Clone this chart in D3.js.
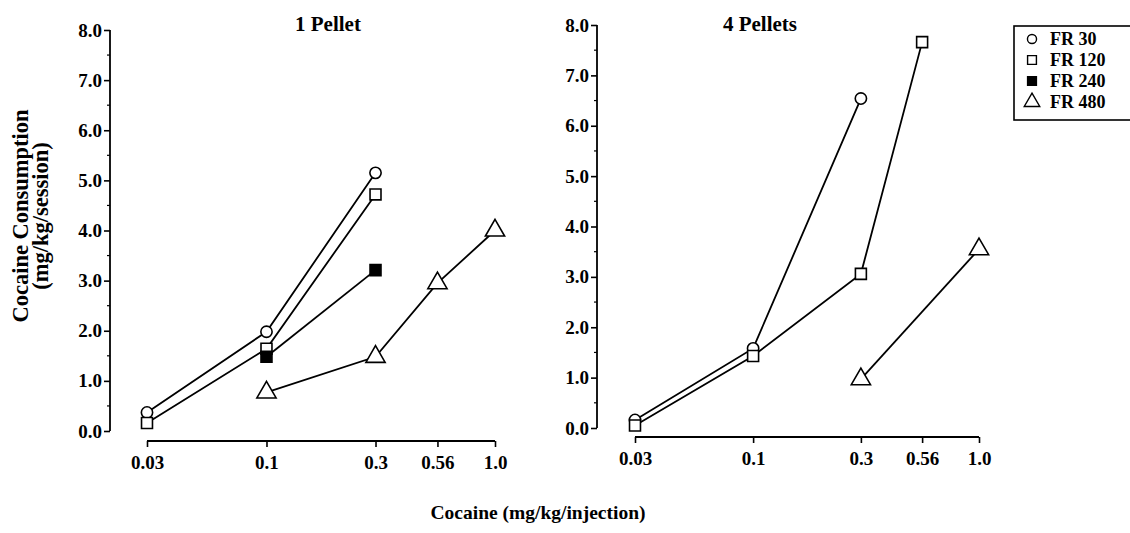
<!DOCTYPE html>
<html>
<head>
<meta charset="utf-8">
<script src="https://cdn.jsdelivr.net/npm/d3@7"></script>
<style>
  body { margin: 0; background: #fff; }
  text { font-family: "Liberation Serif", "Times New Roman", serif; font-weight: bold; fill: #000; }
</style>
</head>
<body>
<div id="chart"></div>
<script>
//Doses on the x axis and tick labels
var doses = [0.03, 0.1, 0.3, 0.56, 1.0];
var doseLabels = ["0.03", "0.1", "0.3", "0.56", "1.0"];
var yTicks = [0, 1, 2, 3, 4, 5, 6, 7, 8];
var seriesNames = ["FR 30", "FR 120", "FR 240", "FR 480"];
var panelTitles = ["1 Pellet", "4 Pellets"];

// values line up with doses, null = not tested
var onePelletFR30 = [0.37, 1.98, 5.15, null, null];
var onePelletFR120 = [0.16, 1.64, 4.72, null, null];
var onePelletFR240 = [null, 1.48, 3.21, null, null];
var onePelletFR480 = [null, 0.77, 1.48, 2.95, 4.0];

var fourPelletFR30 = [0.16, 1.58, 6.54, null, null];
var fourPelletFR120 = [0.05, 1.43, 3.06, 7.66, null];
var fourPelletFR240 = [null, null, null, null, null];
var fourPelletFR480 = [null, null, 0.97, null, 3.55];

var width = 1130;
var height = 533;

var svg = d3
  .select("#chart")
  .append("svg")
  .attr("width", width)
  .attr("height", height);

//panel geometry
var panels = [
  { title: panelTitles[0], titleX: 328, xRange: [147, 495], yRange: [431, 30], yAxisX: 110, xAxisY: 441,
    series: [onePelletFR30, onePelletFR120, onePelletFR240, onePelletFR480] },
  { title: panelTitles[1], titleX: 760, xRange: [635, 979], yRange: [428, 25], yAxisX: 597, xAxisY: 437,
    series: [fourPelletFR30, fourPelletFR120, fourPelletFR240, fourPelletFR480] }
];

var symbolTypes = [d3.symbolCircle, d3.symbolSquare, d3.symbolSquare, d3.symbolTriangle];
var symbolSizes = [100, 120, 120, 160];
var symbolFills = ["#fff", "#fff", "#000", "#fff"];

panels.forEach(function(p) {
  var xScale = d3.scaleLog().domain([0.03, 1.0]).range(p.xRange);
  var yScale = d3.scaleLinear().domain([0, 8]).range(p.yRange);

  // y axis, major ticks
  var yAxis = d3.axisLeft(yScale)
    .tickValues(yTicks)
    .tickSize(6)
    .tickPadding(2)
    .tickFormat(d3.format(".1f"));

  var gy = svg.append("g")
    .attr("transform", "translate(" + p.yAxisX + ",0)")
    .call(yAxis);
  gy.select(".domain").attr("d", "M0," + yScale(0) + "V" + yScale(8));

  // minor ticks at the half units
  gy.selectAll(".minor")
    .data(d3.range(0.5, 8, 1))
    .enter()
    .append("line")
    .attr("class", "minor")
    .attr("x1", -3)
    .attr("x2", 0)
    .attr("y1", function(d) { return yScale(d); })
    .attr("y2", function(d) { return yScale(d); })
    .attr("stroke", "#000")
    .attr("stroke-width", 1.2);

  // x axis, set apart from the y axis
  var xAxis = d3.axisBottom(xScale)
    .tickValues(doses)
    .tickSize(6)
    .tickPadding(9)
    .tickFormat(function(d, i) { return doseLabels[i]; });

  var gx = svg.append("g")
    .attr("transform", "translate(0," + p.xAxisY + ")")
    .call(xAxis);
  gx.select(".domain").attr("d", "M" + p.xRange[0] + ",0H" + p.xRange[1]);

  [gx, gy].forEach(function(g) {
    g.select(".domain").attr("stroke-width", 1.8);
    g.selectAll(".tick line").attr("stroke-width", 1.6);
    g.selectAll(".tick text").attr("font-size", 19).style("font-family", "Liberation Serif").style("font-weight", "bold");
  });

  svg.append("text")
    .attr("x", p.titleX)
    .attr("y", 31)
    .attr("text-anchor", "middle")
    .attr("font-size", 21)
    .text(p.title);

  // lines first (skipping untested doses), markers on top
  var line = d3.line()
    .x(function(d) { return xScale(d.dose); })
    .y(function(d) { return yScale(d.v); });

  p.series.forEach(function(values, s) {
    var pts = values
      .map(function(v, i) { return { dose: doses[i], v: v }; })
      .filter(function(d) { return d.v !== null; });
    if (pts.length < 2) return;
    svg.append("path")
      .datum(pts)
      .attr("d", line)
      .attr("fill", "none")
      .attr("stroke", "#000")
      .attr("stroke-width", 1.8);
  });

  p.series.forEach(function(values, s) {
    var pts = values
      .map(function(v, i) { return { dose: doses[i], v: v }; })
      .filter(function(d) { return d.v !== null; });
    svg.selectAll(null)
      .data(pts)
      .enter()
      .append("path")
      .attr("d", d3.symbol().type(symbolTypes[s]).size(symbolSizes[s]))
      .attr("transform", function(d) {
        return "translate(" + xScale(d.dose) + "," + yScale(d.v) + ")";
      })
      .attr("fill", symbolFills[s])
      .attr("stroke", "#000")
      .attr("stroke-width", 1.6);
  });
});

//Y axis title
var yTitle = svg.append("g").attr("transform", "translate(0,216)rotate(-90)");
yTitle.append("text")
  .attr("x", 0)
  .attr("y", 28)
  .attr("text-anchor", "middle")
  .attr("font-size", 22.5)
  .text("Cocaine Consumption");
yTitle.append("text")
  .attr("x", 0)
  .attr("y", 48)
  .attr("text-anchor", "middle")
  .attr("font-size", 22.5)
  .text("(mg/kg/session)");

//X axis title
svg.append("text")
  .attr("x", 538)
  .attr("y", 519)
  .attr("text-anchor", "middle")
  .attr("font-size", 19.5)
  .text("Cocaine (mg/kg/injection)");

//Legend
var legend = svg.append("g").attr("transform", "translate(1014,26)");
legend.append("rect")
  .attr("x", 0)
  .attr("y", 0)
  .attr("width", 130)
  .attr("height", 94)
  .attr("fill", "#fff")
  .attr("stroke", "#000")
  .attr("stroke-width", 1.6);

seriesNames.forEach(function(name, i) {
  var row = legend.append("g").attr("transform", "translate(0," + (13 + i * 21) + ")");
  row.append("path")
    .attr("d", d3.symbol().type(symbolTypes[i]).size(symbolSizes[i] * 0.65))
    .attr("transform", "translate(18,0)")
    .attr("fill", symbolFills[i])
    .attr("stroke", "#000")
    .attr("stroke-width", 1.4);
  row.append("text")
    .attr("x", 36)
    .attr("y", 6)
    .attr("font-size", 18)
    .text(name);
});
</script>
</body>
</html>
